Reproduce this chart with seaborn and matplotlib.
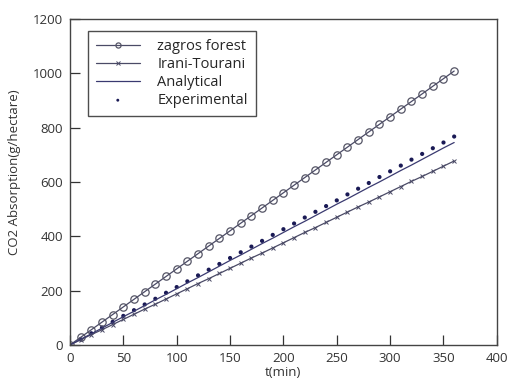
import matplotlib
matplotlib.use("Agg")
import matplotlib.pyplot as plt
import seaborn as sns
import pandas as pd

t_min = list(range(0, 361, 10))
zagros_forest = [0, 28, 56, 84, 112, 140, 168, 196, 224, 252, 280, 308, 336, 364, 392, 420, 448, 476,
                 504, 532, 560, 588, 616, 644, 672, 700, 728, 756, 784, 812, 840, 868, 896, 924, 952, 980, 1008]
irani_tourani = [0, 19, 38, 56, 75, 94, 113, 132, 150, 169, 188, 207, 226, 244, 263, 282, 301, 320, 338,
                 357, 376, 395, 414, 432, 451, 470, 489, 508, 526, 545, 564, 583, 602, 620, 639, 658, 677]
analytical = [0, 21, 41, 62, 83, 104, 124, 145, 166, 186, 207, 228, 248, 269, 290, 311, 331, 352, 373,
              393, 414, 435, 455, 476, 497, 518, 538, 559, 580, 600, 621, 642, 662, 683, 704, 725, 745]
experimental = [0, 21, 43, 64, 85, 107, 128, 149, 170, 192, 213, 234, 256, 277, 298, 320, 341, 362, 383,
                405, 426, 447, 469, 490, 511, 532, 554, 575, 596, 618, 639, 660, 682, 703, 724, 745, 767]
x_ticks = [0, 50, 100, 150, 200, 250, 300, 350, 400]
y_ticks = [0, 200, 400, 600, 800, 1000, 1200]

df = pd.DataFrame({"t": t_min, "zagros": zagros_forest, "irani": irani_tourani,
                   "analytical": analytical, "experimental": experimental})

sns.set_style("ticks")
plt.rcParams["font.family"] = ["Open Sans", "DejaVu Sans"]

fig = plt.figure(figsize=(5.07, 3.85), dpi=100)
ax = fig.add_axes([0.138, 0.104, 0.842, 0.847])

line_c = "#4a4a66"
sns.lineplot(data=df, x="t", y="zagros", ax=ax, color=line_c, lw=0.9, marker="o",
             markersize=5.3, markerfacecolor="none", markeredgecolor="#555566",
             markeredgewidth=0.9, label="zagros forest")
sns.lineplot(data=df, x="t", y="irani", ax=ax, color=line_c, lw=0.9, marker="x",
             markersize=3.2, markeredgecolor=line_c, markeredgewidth=0.7, label="Irani-Tourani")
sns.lineplot(data=df, x="t", y="analytical", ax=ax, color="#3a3a70", lw=0.9, label="Analytical")
sns.scatterplot(data=df, x="t", y="experimental", ax=ax, color="#1a1a55", s=9,
                edgecolor="none", label="Experimental")

ax.set_xlim(0, 400)
ax.set_ylim(0, 1200)
ax.set_xticks(x_ticks)
ax.set_yticks(y_ticks)
ax.tick_params(direction="in", length=7, width=0.9, labelsize=9.5, colors="#333333", pad=5)
for s in ax.spines.values():
    s.set_linewidth(1.0)
    s.set_color("#444444")
ax.set_xlabel("t(min)", fontsize=9.5, color="#333333", labelpad=1)
ax.set_ylabel("CO2 Absorption(g/hectare)", fontsize=9.5, color="#333333", labelpad=5)
ax.yaxis.set_label_coords(-0.115, 0.53)

leg = ax.legend(loc="upper left", bbox_to_anchor=(0.042, 0.962), borderaxespad=0,
                fontsize=10.5, frameon=True, fancybox=False, labelspacing=0.2,
                handlelength=3.0, borderpad=0.55, handletextpad=1.2, markerscale=0.7)
leg.get_frame().set_edgecolor("#222222")
leg.get_frame().set_linewidth(1.0)

fig.savefig("out.png", dpi=100)
